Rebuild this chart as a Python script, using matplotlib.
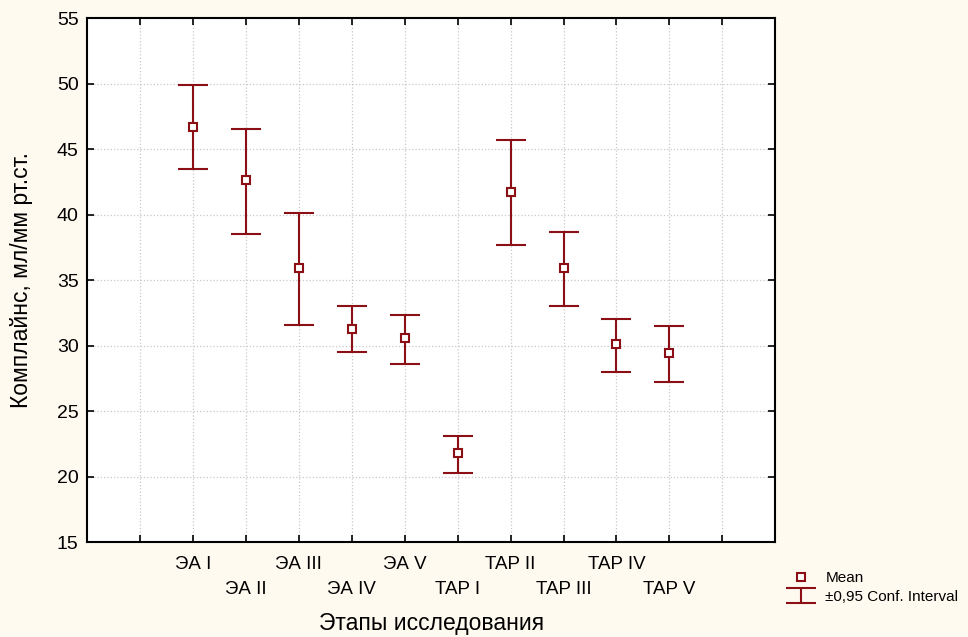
import matplotlib
matplotlib.use("Agg")
import matplotlib.pyplot as plt
from matplotlib.lines import Line2D

plt.rcParams['font.family'] = ['Liberation Sans', 'DejaVu Sans']

# stages and values
stages = ['ЭА I', 'ЭА II', 'ЭА III', 'ЭА IV', 'ЭА V',
          'TAP I', 'TAP II', 'TAP III', 'TAP IV', 'TAP V']
means = [46.7, 42.6, 35.9, 31.3, 30.6, 21.8, 41.7, 35.9, 30.1, 29.4]
ci_low = [43.5, 38.5, 31.6, 29.5, 28.6, 20.3, 37.7, 33.0, 28.0, 27.2]
ci_high = [49.9, 46.5, 40.1, 33.0, 32.3, 23.1, 45.7, 38.7, 32.0, 31.5]

COLOR = '#8b0f14'
BG = '#fffaf0'

fig = plt.figure(figsize=(9.68, 6.37), dpi=100, facecolor=BG)
ax = fig.add_axes([0.0899, 0.149, 0.711, 0.8227])
ax.set_facecolor('white')

x = list(range(len(stages)))
err_lo = [m - lo for m, lo in zip(means, ci_low)]
err_hi = [hi - m for m, hi in zip(means, ci_high)]

eb = ax.errorbar(x, means, yerr=[err_lo, err_hi], fmt='none', ecolor=COLOR,
                 elinewidth=1.5, capsize=11, capthick=1.5, zorder=3)
ax.plot(x, means, linestyle='none', marker='s', markersize=5.5,
        markerfacecolor='white', markeredgecolor=COLOR, markeredgewidth=1.5,
        zorder=4)

# staggered labels, with empty ticks at both ends
ticks = [-1] + x + [len(stages)]
labels = [''] + [s if i % 2 == 0 else '\n' + s for i, s in enumerate(stages)] + ['']
ax.set_xticks(ticks)
ax.set_xticklabels(labels, fontsize=13.5, linespacing=1.6)
ax.set_xlim(-2, len(stages) + 1)
ax.set_ylim(15, 55)
ax.set_yticks(range(15, 56, 5))
ax.tick_params(axis='y', labelsize=14, pad=6)
ax.tick_params(axis='x', pad=10)
ax.tick_params(direction='in', top=True, right=True, length=5, width=1.2, color='black')

ax.grid(True, color='#c8c8c8', linestyle=':', linewidth=0.9)
ax.set_axisbelow(True)
for sp in ax.spines.values():
    sp.set_linewidth(1.5)

ax.set_xlabel('Этапы исследования', fontsize=16.5, labelpad=10)
ax.set_ylabel('Комплайнс, мл/мм рт.ст.', fontsize=16.5, labelpad=17)

mean_handle = Line2D([], [], linestyle='none', marker='s', markersize=5.5,
                     markerfacecolor='white', markeredgecolor=COLOR, markeredgewidth=1.5)
fig.legend([mean_handle, eb], ['Mean', '±0,95 Conf. Interval'],
           loc='upper left', bbox_to_anchor=(0.81, 0.103), frameon=False,
           fontsize=11, handlelength=2.2, handletextpad=0.5, labelspacing=0.3,
           borderaxespad=0, borderpad=0)

fig.savefig('out.png', dpi=100, facecolor=BG)
